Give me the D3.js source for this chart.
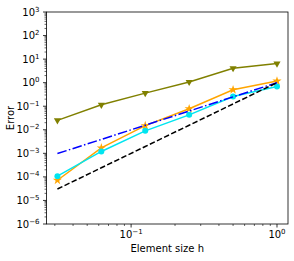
<!DOCTYPE html>
<html><head><meta charset="utf-8">
<script src="https://cdn.jsdelivr.net/npm/d3@7"></script>
<style>body{margin:0;background:#fff}svg{display:block}text{font-family:"DejaVu Sans",sans-serif}</style>
</head><body>
<svg id="c" width="294" height="261"></svg>
<script>
const h = [1/32, 1/16, 1/8, 1/4, 1/2, 1];
const errOlive  = [0.025, 0.115, 0.36, 1.07, 4.1, 6.5];
const errOrange = [7.2e-5, 1.7e-3, 0.015, 0.078, 0.5, 1.17];
const errCyan   = [1.07e-4, 1.2e-3, 0.009, 0.043, 0.26, 0.69];
const refH2     = [9.8e-4, 3.9e-3, 1.56e-2, 6.25e-2, 0.25, 1.0];
const refH3     = [3.05e-5, 2.44e-4, 1.95e-3, 1.56e-2, 0.125, 1.0];
const xMajor = [0.1, 1];
const yMajor = [1e-6,1e-5,1e-4,1e-3,1e-2,1e-1,1,1e1,1e2,1e3];
const xLabel = "Element size h", yLabel = "Error";

const L=46.5, R=288, T=12, B=224;
const svg = d3.select("#c");
const x = d3.scaleLog().domain([Math.pow(10,-1.58), Math.pow(10,0.0755)]).range([L,R]);
const y = d3.scaleLog().domain([1e-6,1e3]).range([B,T]);

const sup = {"-":"\u2212","0":"0","1":"1","2":"2","3":"3","4":"4","5":"5","6":"6"};
function expOf(v){return Math.round(Math.log10(v));}
function labelPow(sel){
  sel.each(function(d){
    const t=d3.select(this); t.text(null);
    t.append("tspan").text("10");
    const e=expOf(d);
    t.append("tspan").attr("dy",-4).attr("font-size",7).text(e<0?"\u2212"+(-e):String(e));
  });
}

// minor ticks
const xMinor=[];
[0.01,0.1].forEach(b=>{for(let k=2;k<=9;k++){const v=b*k; if(v>=x.domain()[0]&&v<=x.domain()[1]) xMinor.push(v);}});
const yMinor=[];
for(let e=-6;e<3;e++){for(let k=2;k<=9;k++) yMinor.push(k*Math.pow(10,e));}

const ax=svg.append("g");
ax.selectAll(".xm").data(xMinor).enter().append("line")
  .attr("x1",d=>x(d)).attr("x2",d=>x(d)).attr("y1",B).attr("y2",B+2).attr("stroke","#000").attr("stroke-width",0.6);
ax.selectAll(".ym").data(yMinor).enter().append("line")
  .attr("x1",L-2).attr("x2",L).attr("y1",d=>y(d)).attr("y2",d=>y(d)).attr("stroke","#000").attr("stroke-width",0.6);
ax.selectAll(".xM").data(xMajor).enter().append("line")
  .attr("x1",d=>x(d)).attr("x2",d=>x(d)).attr("y1",B).attr("y2",B+3.5).attr("stroke","#000").attr("stroke-width",0.8);
ax.selectAll(".yM").data(yMajor).enter().append("line")
  .attr("x1",L-3.5).attr("x2",L).attr("y1",d=>y(d)).attr("y2",d=>y(d)).attr("stroke","#000").attr("stroke-width",0.8);

ax.selectAll(".xl").data(xMajor).enter().append("text")
  .attr("x",d=>x(d)).attr("y",238).attr("text-anchor","middle").attr("font-size",10).call(labelPow);
ax.selectAll(".yl").data(yMajor).enter().append("text")
  .attr("x",L-7).attr("y",d=>y(d)+3.6).attr("text-anchor","end").attr("font-size",10).call(labelPow);

svg.append("text").attr("x",(L+R)/2).attr("y",252).attr("text-anchor","middle").attr("font-size",10).text(xLabel);
svg.append("text").attr("transform",`translate(14,${(T+B)/2}) rotate(-90)`).attr("text-anchor","middle").attr("font-size",10).text(yLabel);

const clip=svg.append("g");
const line=d3.line().x((d,i)=>x(h[i])).y(d=>y(d));
function series(vals,color,dash){
  clip.append("path").datum(vals).attr("d",line).attr("fill","none").attr("stroke",color)
    .attr("stroke-width",1.5).attr("stroke-dasharray",dash||null);
}
series(errOlive,"#808000");
series(errOrange,"#ffa500");
series(errCyan,"#00e5f0");

// markers
const tri=d3.symbol().type(d3.symbolTriangle).size(22);
clip.selectAll(".to").data(errOlive).enter().append("path").attr("d",tri)
  .attr("transform",(d,i)=>`translate(${x(h[i])},${y(d)}) rotate(180)`).attr("fill","#808000");
const star=d3.symbol().type(d3.symbolStar).size(26);
clip.selectAll(".so").data(errOrange).enter().append("path").attr("d",star)
  .attr("transform",(d,i)=>`translate(${x(h[i])},${y(d)})`).attr("fill","#ffa500");
clip.selectAll(".co").data(errCyan).enter().append("circle")
  .attr("cx",(d,i)=>x(h[i])).attr("cy",d=>y(d)).attr("r",3).attr("fill","#00e5f0");

series(refH2,"#0000ff","9.6,2.4,1.5,2.4");
series(refH3,"#000000","5.5,2.4");

svg.append("rect").attr("x",L).attr("y",T).attr("width",R-L).attr("height",B-T)
  .attr("fill","none").attr("stroke","#000").attr("stroke-width",0.8);
</script>
</body></html>
